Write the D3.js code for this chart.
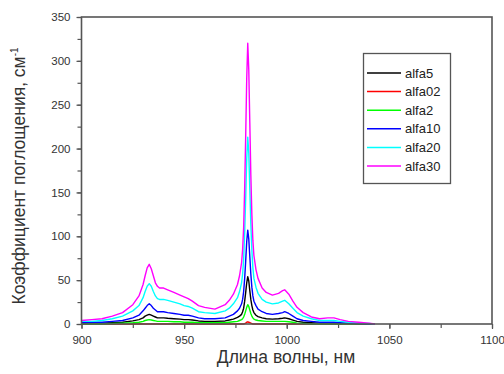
<!DOCTYPE html>
<html><head><meta charset="utf-8">
<script src="https://cdn.jsdelivr.net/npm/d3@7"></script>
<style>body{margin:0;background:#fff}svg{display:block}</style>
</head><body>
<svg id="c" width="504" height="374"></svg>
<script>
const wavelengths = [900,905,910,915,920,925,928,930,931,932,933,934,935,936,937,938,940,942,945,948,950,952,954,957,960,965,970,972,974,976,977,978,978.5,979,979.5,980,980.5,981,981.5,982,982.5,983,983.5,984,985,986,988,990,993,996,998,999,1001,1003,1005,1008,1012,1016,1020,1023,1026,1030,1035,1040,1043];
const alfa5  = [1,1,1,1.5,2,3.5,5,7,9,10,11,10,9,8,7,7,7,6.5,6,5.5,5,5,4.5,3.5,3,3,3.5,4.5,5.5,7.5,9,11,14,18,26,36,47,54,49,38,28,21,16,13,10,8.5,7,6,5.5,6,6.5,7,6,4.5,3,2,1.5,1,1,1,0.5,0.5,0,0,0];
const alfa02 = [0,0,0,0,0,0,0,0,0,0,0,0,0,0,0,0,0,0,0,0,0,0,0,0,0,0,0,0,0,0,0,0,0,0,0.5,1,2,2.5,2,1.5,1,0.5,0,0,0,0,0,0,0,0,0,0,0,0,0,0,0,0,0,0,0,0,0,0,0];
const alfa2  = [0,0,0,0.5,1,1.5,2,3,4,4.5,5,4.5,4,3.5,3,3,3,3,2.5,2.5,2,2,2,1.5,1.5,1.5,1.5,2,2.5,3,4,5,6,8,11,15,19,22,20,16,12,9,7,5.5,4.5,4,3.5,3,3,3,3,3,2.5,2,1,0.5,0,0,0,0,0,0,0,0,0];
const alfa10 = [1.5,2,2,3,4,7,10,15,18,21,23,21,18,16,14,14,14,13,12,11,10,10,9,7,6,6,7,9,11,15,18,23,28,37,52,72,94,107,97,77,57,42,32,26,21,17,14,12,11,12,13,14,12,9,6,4,3,2,2,2,1.5,1,0.5,0,0];
const alfa20 = [3,3,4,6,9,15,21,30,37,43,46,43,37,32,29,28,28,27,25,23,21,20,18,14,13,12,15,18,23,30,37,47,57,74,104,144,188,213,195,154,114,84,64,52,42,35,28,25,23,24,26,27,23,18,13,9,6,4,4,4,3,2,1,0.5,0];
const alfa30 = [4,5,6,9,13,22,32,45,55,64,68,63,55,47,43,41,41,39,36,33,31,29,26,21,19,17,22,27,34,45,55,70,85,110,155,215,280,320,290,230,170,125,95,78,62,52,41,36,33,35,38,39,34,26,19,13,8,6,7,7,5,3,2,1,0];
const seriesNames = ["alfa5","alfa02","alfa2","alfa10","alfa20","alfa30"];
const seriesColors = ["#000000","#ff0000","#00ff00","#0000ff","#00ffff","#ff00ff"];
const seriesValues = [alfa5, alfa02, alfa2, alfa10, alfa20, alfa30];
const xTicks = [900,950,1000,1050,1100];
const yTicks = [0,50,100,150,200,250,300,350];

const svg = d3.select("#c");
const L=81.5, R=492, T=17, B=324;
const x = d3.scaleLinear().domain([900,1100]).range([L,R]);
const y = d3.scaleLinear().domain([0,350]).range([B,T]);
const axisCol="#555";
const font="Liberation Sans, Arial, sans-serif";

const gx = svg.append("g").attr("transform",`translate(0,${B})`)
  .call(d3.axisBottom(x).tickValues(d3.range(900,1101,25)).tickSize(4).tickFormat(""));
const gy = svg.append("g").attr("transform",`translate(${L},0)`)
  .call(d3.axisLeft(y).tickValues(d3.range(0,351,25)).tickSize(4).tickFormat(""));
[gx,gy].forEach(g=>{g.select(".domain").remove();g.selectAll("line").attr("stroke",axisCol).attr("stroke-width",1.2);});
const gx2 = svg.append("g").attr("transform",`translate(0,${B})`)
  .call(d3.axisBottom(x).tickValues(xTicks).tickSize(5).tickPadding(7).tickFormat(d3.format("d")));
const gy2 = svg.append("g").attr("transform",`translate(${L},0)`)
  .call(d3.axisLeft(y).tickValues(yTicks).tickSize(5).tickPadding(6).tickFormat(d3.format("d")));
[gx2,gy2].forEach(g=>{g.select(".domain").remove();g.selectAll("line").attr("stroke",axisCol).attr("stroke-width",1.2);
  g.selectAll("text").attr("font-family",font).attr("font-size",11.5).attr("fill","#333");});

const line = d3.line().x((d,i)=>x(wavelengths[i])).y(d=>y(d));
svg.append("g").selectAll("path").data(seriesValues).join("path")
  .attr("d",line).attr("fill","none").attr("stroke",(d,i)=>seriesColors[i])
  .attr("stroke-width",1.4).attr("stroke-linejoin","round");

svg.append("rect").attr("x",L).attr("y",T).attr("width",R-L).attr("height",B-T)
  .attr("fill","none").attr("stroke",axisCol).attr("stroke-width",1.6);

const lg = svg.append("g");
lg.append("rect").attr("x",363.5).attr("y",53.5).attr("width",87).attr("height",130)
  .attr("fill","#fff").attr("stroke","#555").attr("stroke-width",1.3);
seriesNames.forEach((n,i)=>{
  const yy = 73 + i*18.6;
  lg.append("line").attr("x1",367).attr("x2",401).attr("y1",yy).attr("y2",yy)
    .attr("stroke",seriesColors[i]).attr("stroke-width",1.5);
  lg.append("text").attr("x",405).attr("y",yy+4.5).text(n)
    .attr("font-family",font).attr("font-size",13).attr("fill","#222");
});

svg.append("text").attr("x",286).attr("y",363).attr("text-anchor","middle")
  .attr("font-family",font).attr("font-size",17.5).attr("fill","#333")
  .text("Длина волны, нм");
const yt = svg.append("text").attr("transform","translate(25,176) rotate(-90)").attr("text-anchor","middle")
  .attr("font-family",font).attr("font-size",17.5).attr("fill","#333");
yt.append("tspan").text("Коэффициент поглощения, см");
yt.append("tspan").attr("dy",-7).attr("font-size",10).text("-1");
</script>
</body></html>
